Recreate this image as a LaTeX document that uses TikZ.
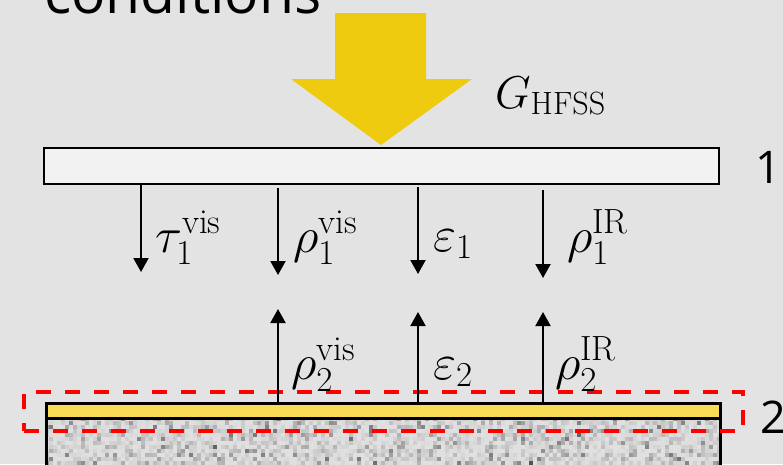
\RequirePackage{fix-cm}
\documentclass[tikz,border=0pt]{standalone}
\usepackage{fontspec}
\newfontfamily\labelfont{Open Sans}
\usetikzlibrary{arrows.meta,positioning,calc}
\definecolor{bg}{RGB}{227,227,227}
\definecolor{sun}{RGB}{238,203,15}
\definecolor{coat}{RGB}{248,220,85}
\definecolor{glass}{RGB}{242,242,242}
\tikzset{
  plate/.style={draw=black, line width=2.5pt, inner sep=0pt},
  flux/.style={-{Triangle[length=14pt,width=15pt]}, line width=2pt},
  sym/.style={anchor=base west, inner sep=0pt, font=\fontsize{50}{56}\selectfont},
  tag/.style={anchor=base west, inner sep=0pt, font=\labelfont\fontsize{45}{50}\selectfont},
  focus/.style={draw=red, line width=4pt, dash pattern=on 15pt off 14pt, inner sep=0pt}
}

\begin{document}
\begin{tikzpicture}[x=1pt,y=-1pt]
\useasboundingbox (0,0) rectangle (783,464);
\fill[bg] (0,0) rectangle (783,464);
\begin{scope}
\clip (0,0) rectangle (783,464);
\node[tag, font=\labelfont\fontsize{57}{60}\selectfont] (title) at (44,13) {conditions};
\fill[sun] (335,13) -- (426,13) -- (426,79) -- (472,79) -- (381,145) -- (291,79) -- (335,79) -- cycle;
\node[sym, font=\fontsize{46}{52}\selectfont] (ghfss) at (495,108) {$G_{\mathrm{HFSS}}$};
\node[plate, fill=glass, minimum width=675pt, minimum height=36pt] (cover) at (381.5,166) {};
\node[tag] (one) at (755,183) {1};
\begin{scope}
\clip (45,417) rectangle (719,464);
\pgfmathsetseed{7}
\foreach \i in {0,...,168} {
  \foreach \j in {0,...,11} {
    \pgfmathsetmacro\g{int(12+64*rnd*rnd*rnd)}
    \fill[black!\g] ({45+4*\i},{417+4*\j}) rectangle +(4,4);
  }
}
\end{scope}
\node[plate, minimum width=674pt, minimum height=70pt, anchor=north west] (substrate) at (45,417) {};
\node[plate, fill=coat, minimum width=674pt, minimum height=15pt, anchor=north west] (coating) at (45,402) {};
\node[focus, minimum width=719pt, minimum height=39pt] (zone) at (383.5,411.5) {};
\node[tag] (two) at (760,433) {2};
\coordinate (d1) at (141,272);
\coordinate (d2) at (278,275);
\coordinate (d3) at (418,274);
\coordinate (d4) at (543,278);
\draw[flux] (cover.south -| d1) -- (d1);
\draw[flux, shorten <=3pt] (cover.south -| d2) -- (d2);
\draw[flux, shorten <=2pt] (cover.south -| d3) -- (d3);
\draw[flux, shorten <=5pt] (cover.south -| d4) -- (d4);
\coordinate (u1) at (278,309);
\coordinate (u2) at (418,312);
\coordinate (u3) at (543,312);
\draw[flux] (coating.north -| u1) -- (u1);
\draw[flux] (coating.north -| u2) -- (u2);
\draw[flux] (coating.north -| u3) -- (u3);
\node[sym] (tau1) at (155,252) {$\tau_1^{\mathrm{vis}}$};
\node[sym] (rho1) at (293,252) {$\rho_1^{\mathrm{vis}}$};
\node[sym] (eps1) at (433,251) {$\varepsilon_1$};
\node[sym] (rho1ir) at (567,252) {$\rho_1^{\mathrm{IR}}$};
\node[sym] (rho2) at (291,379) {$\rho_2^{\mathrm{vis}}$};
\node[sym] (eps2) at (433,379) {$\varepsilon_2$};
\node[sym] (rho2ir) at (555,379) {$\rho_2^{\mathrm{IR}}$};
\end{scope}
\end{tikzpicture}
\end{document}
